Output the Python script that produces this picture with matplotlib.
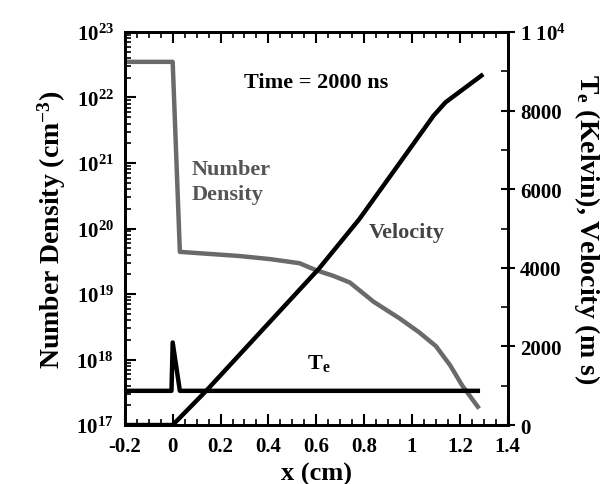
import matplotlib
matplotlib.use("Agg")
import matplotlib.pyplot as plt
from matplotlib.ticker import MultipleLocator, FixedLocator, LogLocator, NullFormatter

plt.rcParams['font.family'] = ['Liberation Serif', 'DejaVu Serif']
plt.rcParams['font.weight'] = 'bold'
plt.rcParams['mathtext.fontset'] = 'custom'
plt.rcParams['mathtext.rm'] = 'Liberation Serif:bold'
plt.rcParams['mathtext.it'] = 'Liberation Serif:bold'
plt.rcParams['mathtext.bf'] = 'Liberation Serif:bold'

# number density (cm^-3)
dens_x = [-0.2, 0.0, 0.03, 0.28, 0.41, 0.53, 0.60, 0.67, 0.74, 0.84, 0.95, 1.03, 1.10, 1.16, 1.21, 1.275]
dens_y = [3.5e22, 3.5e22, 4.4e19, 3.8e19, 3.4e19, 2.95e19, 2.3e19, 1.9e19, 1.5e19,
          7.6e18, 4.2e18, 2.6e18, 1.6e18, 8.1e17, 4.0e17, 1.9e17]

# velocity (m/s), right axis
vel_x = [-0.2, 0.0, 0.14, 0.34, 0.61, 0.78, 0.95, 1.09, 1.14, 1.29]
vel_y = [0, 0, 870, 2190, 3970, 5240, 6680, 7870, 8210, 8890]

# electron temperature (K), right axis
te_x = [-0.2, -0.005, 0.0, 0.03, 1.275]
te_y = [870, 870, 2100, 870, 870]

fig = plt.figure(figsize=(6.03, 4.85), dpi=100)
ax = fig.add_axes([0.207, 0.1216, 0.635, 0.8104])
ax2 = ax.twinx()

ax.plot(dens_x, dens_y, color="#6a6a6a", lw=3.2, solid_joinstyle="round")
ax.set_yscale("log")
ax.set_ylim(1e17, 1e23)
ax.set_xlim(-0.2, 1.4)

ax2.plot(vel_x, vel_y, color="black", lw=3.2, solid_joinstyle="round")
ax2.plot(te_x, te_y, color="black", lw=3.2)
ax2.set_ylim(0, 10000)

# ticks
ax.xaxis.set_minor_locator(MultipleLocator(0.05))
ax.set_xticks([-0.2, 0, 0.2, 0.4, 0.6, 0.8, 1, 1.2, 1.4])
ax.set_xticklabels(["-0.2", "0", "0.2", "0.4", "0.6", "0.8", "1", "1.2", "1.4"])
ax.yaxis.set_minor_locator(LogLocator(base=10, subs=range(2, 10), numticks=100))
ax.yaxis.set_minor_formatter(NullFormatter())
ax.set_yticks([1e17, 1e18, 1e19, 1e20, 1e21, 1e22, 1e23])
ax.set_yticklabels(["$10^{%d}$" % p for p in range(17, 24)])

ax2.yaxis.set_major_locator(FixedLocator([0, 2000, 4000, 6000, 8000, 10000]))
ax2.yaxis.set_minor_locator(MultipleLocator(1000))
ax2.set_yticklabels(["0", "2000", "4000", "6000", "8000", "1 $10^{4}$"])

ax.tick_params(axis="both", which="major", direction="in", length=8, width=1.5,
               labelsize=15, top=True)
ax.tick_params(axis="both", which="minor", direction="in", length=4, width=1.2, top=True)
ax.tick_params(axis="y", which="major", pad=8)
ax.tick_params(axis="x", which="major", pad=8)
ax2.tick_params(axis="y", which="major", direction="inout", length=10, width=1.5,
                labelsize=15, pad=4)
ax2.tick_params(axis="y", which="minor", direction="in", length=5, width=1.2)

for sp in list(ax.spines.values()) + list(ax2.spines.values()):
    sp.set_linewidth(2)

ax.set_xlabel("x (cm)", fontsize=19, fontweight="bold", labelpad=4)
ax.set_ylabel("Number Density (cm$^{-3}$)", fontsize=20, fontweight="bold", labelpad=6)
ax2.set_ylabel("T$_e$ (Kelvin), Velocity (m s)", fontsize=20, fontweight="bold",
               rotation=-90, labelpad=26)

ax2.text(0.598, 8730, "Time = 2000 ns", fontsize=16, fontweight="bold",
         ha="center", va="center")
ax2.text(0.08, 6200, "Number\nDensity", fontsize=16, fontweight="bold",
         color="#555555", ha="left", va="center", linespacing=1.3)
ax2.text(0.82, 4910, "Velocity", fontsize=16, fontweight="bold",
         color="#444444", ha="left", va="center")
ax2.text(0.56, 1600, "T$_e$", fontsize=16, fontweight="bold",
         ha="left", va="center")

fig.savefig("out.png", dpi=100)
